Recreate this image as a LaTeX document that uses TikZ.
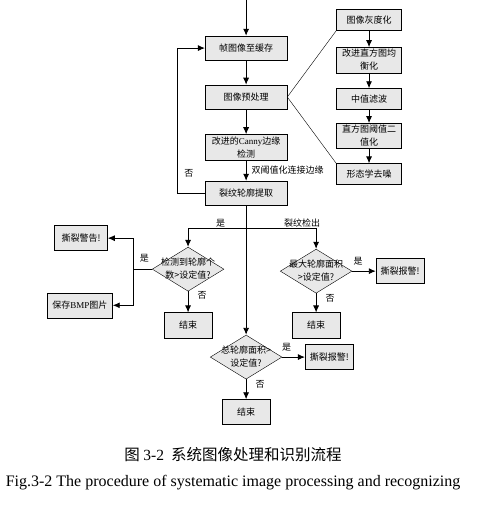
\documentclass[tikz,border=0pt]{standalone}
\usepackage{fontspec}
\setmainfont{Liberation Serif}
\newfontfamily\cjk{Noto Sans CJK SC}
\usetikzlibrary{arrows,arrows.meta,shapes,calc,positioning}
\tikzset{
    block/.style = {draw, rectangle, fill=gray!18,
        minimum height=0.85cm,
        minimum width=2.88cm, align=center, inner ysep=2pt,
        font=\cjk\fontsize{9}{13}\selectfont},
    sblock/.style = {block, minimum width=2.29cm, minimum height=0.74cm},
    eblock/.style = {block, minimum width=1.69cm, minimum height=0.88cm},
    decision/.style = {draw, diamond, fill=gray!18, inner sep=0pt,
        minimum width=2.52cm, minimum height=1.55cm,
        font=\cjk\fontsize{9}{13}\selectfont},
    input/.style = {coordinate},
    lbl/.style = {font=\cjk\fontsize{9}{11}\selectfont, inner sep=1pt},
    arrow/.style = {draw, -{Latex[length=7pt,width=6pt]}, line width=0.9pt},
    line/.style = {draw, line width=0.9pt}
}
\newcommand{\dtext}[2]{\makebox[0pt]{\begin{tabular}{@{}c@{}}#1\\#2\end{tabular}}}

\begin{document}
\begin{tikzpicture}[auto, node distance=2cm]
    \useasboundingbox (0,0) rectangle (481pt,-513pt);
    % main column
    \node [input, name=input] at (8.65cm,0) {};
    \node [block, below of=input, node distance=1.69cm] (frame) {帧图像至缓存};
    \draw [arrow] (input) -- (frame);
    \node [block, below of=frame, node distance=1.72cm] (prep) {图像预处理};
    \draw [arrow] (frame) -- (prep);
    \node [block, below of=prep, node distance=1.76cm] (canny) {改进的{\rmfamily Canny}边缘\\检测};
    \draw [arrow] (prep) -- (canny);
    \node [block, below of=canny, node distance=1.62cm] (crack) {裂纹轮廓提取};
    \draw [arrow] (canny) -- node[lbl, right=4pt] {双阈值化连接边缘} (crack);
    \draw [arrow] (crack.west) -- ++(-0.95cm,0) |- node[lbl, right=5pt, pos=0.07] {否} (frame.west);
    % preprocessing steps
    \node [sblock, right of=prep, node distance=4.32cm, yshift=2.71cm] (gray) {图像灰度化};
    \node [sblock, below of=gray, node distance=1.41cm] (hist) {改进直方图均\\衡化};
    \draw [arrow] (gray) -- (hist);
    \node [sblock, below of=hist, node distance=1.37cm] (median) {中值滤波};
    \draw [arrow] (hist) -- (median);
    \node [sblock, below of=median, node distance=1.30cm] (binar) {直方图阈值二\\值化};
    \draw [arrow] (median) -- (binar);
    \node [sblock, below of=binar, node distance=1.34cm] (denoise) {形态学去噪};
    \draw [arrow] (binar) -- (denoise);
    \draw (prep.east) -- (gray.south west);
    \draw (prep.east) -- (denoise.north west);
    % recognition
    \node [input, below of=crack, node distance=1.23cm] (split) {};
    \node [decision, below of=split, node distance=1.44cm, xshift=-2.04cm] (count) {\dtext{检测到轮廓个}{数>设定值?}};
    \node [decision, below of=split, node distance=1.51cm, xshift=2.46cm] (maxarea) {\dtext{最大轮廓面积}{>设定值?}};
    \draw [arrow] (split) -| node[lbl, above, pos=0.22] {是} (count.north);
    \draw [arrow] (split) -| node[lbl, above, pos=0.4] {裂纹检出} (maxarea.north);
    \node [input, left of=count, node distance=1.93cm] (fork) {};
    \node [eblock, left of=count, node distance=3.76cm, yshift=1.09cm, minimum width=1.86cm] (warn) {撕裂警告!};
    \node [eblock, left of=count, node distance=3.80cm, yshift=-1.27cm, minimum width=2.29cm] (bmp) {保存{\rmfamily BMP}图片};
    \draw [line] (count.west) -- node[lbl, above=5pt, pos=0.4] {是} (fork);
    \draw [arrow] (fork) |- (warn.east);
    \draw [arrow] (fork) |- (bmp.east);
    \node [eblock, below of=count, node distance=1.97cm] (end1) {结束};
    \draw [arrow] (count) -- node[lbl, right=8pt, pos=0.2] {否} (end1);
    \node [eblock, right of=maxarea, node distance=2.95cm] (alarm2) {撕裂报警!};
    \draw [arrow] (maxarea) -- node[lbl, above=4pt, pos=0.25] {是} (alarm2);
    \node [eblock, below of=maxarea, node distance=1.90cm] (end2) {结束};
    \draw [arrow] (maxarea) -- node[lbl, right=8pt, pos=0.25] {否} (end2);
    \node [decision, below of=crack, node distance=5.76cm] (total) {\dtext{总轮廓面积>}{设定值?}};
    \draw [arrow] (crack) -- (total);
    \node [eblock, right of=total, node distance=2.92cm] (alarm3) {撕裂报警!};
    \draw [arrow] (total) -- node[lbl, above=4pt, pos=0.2] {是} (alarm3);
    \node [eblock, below of=total, node distance=1.93cm] (end3) {结束};
    \draw [arrow] (total) -- node[lbl, right=8pt, pos=0.25] {否} (end3);
    % captions
    \node [below of=end3, node distance=1.51cm, xshift=-0.46cm, font=\cjk\fontsize{15.5}{17}\selectfont] (cap1) {图 {\rmfamily 3-2}\ \ 系统图像处理和识别流程};
    \node [below of=cap1, node distance=0.98cm, font=\fontsize{16}{18}\selectfont] (cap2) {Fig.3-2 The procedure of systematic image processing and recognizing};
\end{tikzpicture}
\end{document}
